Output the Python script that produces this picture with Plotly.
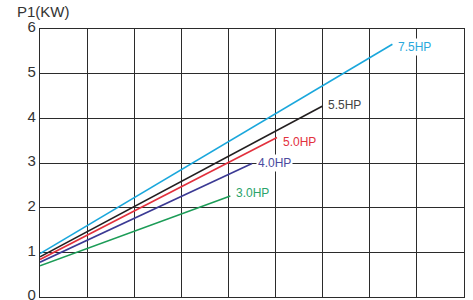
import plotly.graph_objects as go

# Series data: (start at x=0, end point)
series_names = ["7.5HP", "5.5HP", "5.0HP", "4.0HP", "3.0HP"]
x_start = [0, 0, 0, 0, 0]
y_start = [0.97, 0.90, 0.84, 0.78, 0.70]
x_end = [7.48, 5.99, 5.03, 4.50, 4.04]
y_end = [5.66, 4.27, 3.57, 2.99, 2.26]

line_colors = ["#1aa7dc", "#231f20", "#e2313d", "#3b3a94", "#1c9c57"]
text_colors = ["#2aa8dc", "#444444", "#e2313d", "#4a4a9e", "#2aa36a"]
label_dy = [-3, 1, -4, 0, 3]

y_ticks = [0, 1, 2, 3, 4, 5, 6]
x_grid = list(range(0, 10))

fig = go.Figure()
for i, name in enumerate(series_names):
    fig.add_trace(go.Scatter(
        x=[x_start[i], x_end[i]], y=[y_start[i], y_end[i]],
        mode="lines", line=dict(color=line_colors[i], width=1.6),
        showlegend=False, hoverinfo="skip"))
    fig.add_annotation(
        x=x_end[i], y=y_end[i], text=name, showarrow=False,
        xanchor="left", yanchor="middle", xshift=4, yshift=label_dy[i],
        font=dict(family="Liberation Sans, Arial", size=12, color=text_colors[i]),
        bgcolor="white", borderpad=1)

fig.add_annotation(
    x=0, y=1, xref="paper", yref="paper", text="P1(KW)", showarrow=False,
    xanchor="left", yanchor="bottom", xshift=-25, yshift=7,
    font=dict(family="Liberation Sans, Arial", size=15, color="#333333"))

fig.update_xaxes(
    range=[0, 9], tickvals=x_grid, showticklabels=False, showgrid=True,
    gridcolor="#2b2b2b", gridwidth=1.3, zeroline=False, automargin=False,
    showline=True, linecolor="#2b2b2b", linewidth=1.3, mirror=True, ticks="")
fig.update_yaxes(
    range=[0, 6], tickvals=y_ticks, showgrid=True,
    gridcolor="#2b2b2b", gridwidth=1.3, zeroline=False, automargin=False,
    showline=True, linecolor="#2b2b2b", linewidth=1.3, mirror=True, ticks="",
    ticklabeloverflow="allow", ticklabelshift=-2,
    tickfont=dict(family="Liberation Sans, Arial", size=15, color="#333333"))

fig.update_layout(
    width=473, height=300,
    margin=dict(l=40, r=9, t=29, b=3),
    plot_bgcolor="white", paper_bgcolor="white")

fig.write_html(
    "out.html",
    config={"displayModeBar": False},
    post_script="document.body.style.margin='0';document.body.style.overflow='hidden';")
